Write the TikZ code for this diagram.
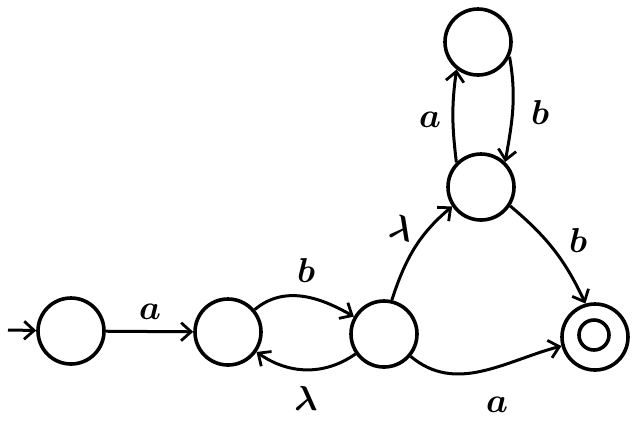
\documentclass[tikz,border=0pt]{standalone}
\usetikzlibrary{arrows.meta}
\begin{document}
\begin{tikzpicture}[x=0.5pt,y=-0.5pt,
  st/.style={circle,draw,line width=1.8pt,minimum size=33pt,inner sep=0pt},
  edge/.style={line width=1.5pt,-{Straight Barb[length=5pt,width=9pt,line width=1.4pt]}},
  lab/.style={font=\fontsize{18}{20}\selectfont\boldmath}]
\useasboundingbox (0,0) rectangle (632,420);
\node[st] (q0) at (71,331) {};
\node[st] (q1) at (228,332) {};
\node[st] (q2) at (384,334) {};
\node[st] (q3) at (481,187) {};
\node[st] (q4) at (478,42) {};
\node[st] (q5) at (595,337) {};
\node[circle,draw,line width=1.8pt,minimum size=15pt,inner sep=0pt] (q5i) at (594,335) {};
\coordinate (s) at (8,330);
\draw[edge] (s) -- (q0);
\draw[edge] (q0) -- (q1);
\draw[edge] (q1) to[out=40,in=150] (q2);
\draw[edge] (q2) to[out=215,in=-35] (q1);
\draw[edge] (q2.77) to[out=72,in=220] (q3.214);
\draw[edge] (q3.135) to[out=97,in=262] (q4.232);
\draw[edge] (q4.-25) to[out=-80,in=80] (q3.46);
\draw[edge] (q3.-33) to[out=-40,in=115] (q5.106);
\draw[edge] (q2) to[out=-40,in=195] (q5);
\node[lab] (la1) at (150,312) {$a$};
\node[lab] (lb1) at (306,270) {$b$};
\node[lab] (ll1) at (306,398) {$\lambda$};
\node[lab,rotate=-15] (ll2) at (402,228) {$\lambda$};
\node[lab] (la2) at (430,120) {$a$};
\node[lab] (lb2) at (540,112) {$b$};
\node[lab] (lb3) at (578,240) {$b$};
\node[lab] (la3) at (497,405) {$a$};
\end{tikzpicture}
\end{document}
